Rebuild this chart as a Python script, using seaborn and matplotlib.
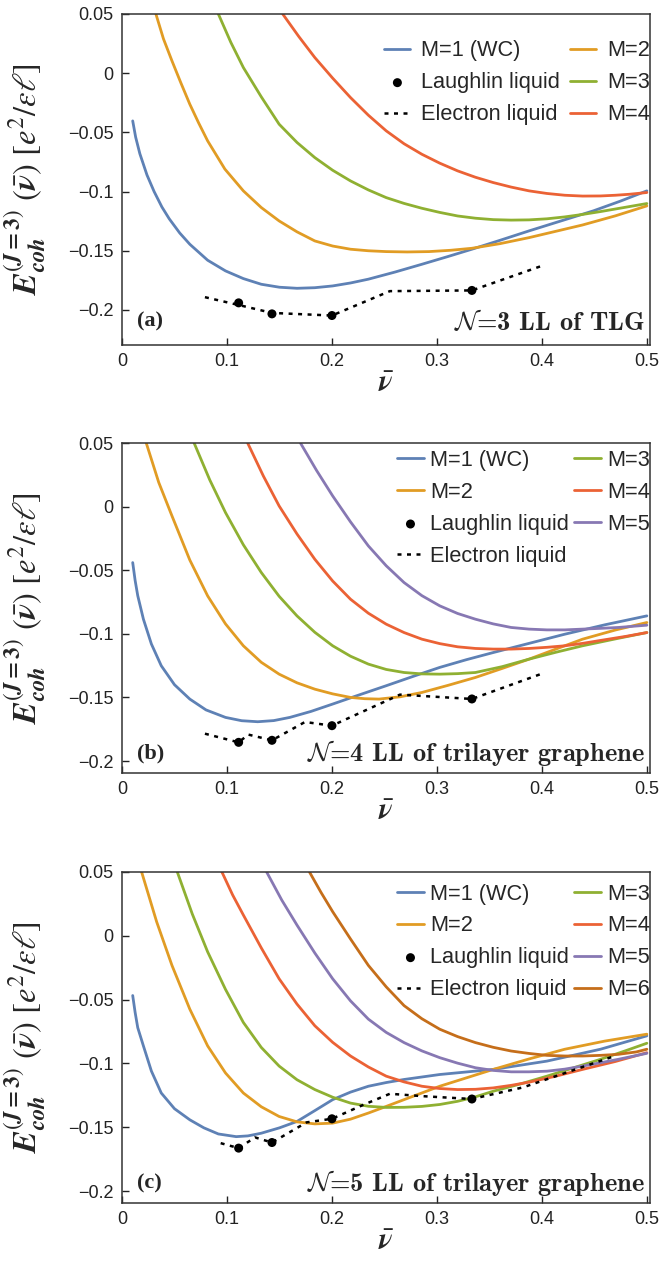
import matplotlib
matplotlib.use("Agg")
import matplotlib.pyplot as plt
import seaborn as sns
import numpy as np
import pandas as pd

# ---------------- data ----------------
# Panel (a): N=3 LL of TLG
a_m1_x = [0.0102, 0.013, 0.017, 0.0238, 0.0306, 0.038, 0.045, 0.055, 0.0646, 0.0816, 0.0986, 0.1156, 0.1327, 0.15, 0.1667, 0.1837, 0.2007, 0.2177, 0.2347, 0.26, 0.2857, 0.31, 0.3333, 0.36, 0.3878, 0.42, 0.449, 0.475, 0.5]
a_m1_y = [-0.0403, -0.054, -0.068, -0.086, -0.100, -0.113, -0.123, -0.135, -0.1445, -0.158, -0.167, -0.1735, -0.1783, -0.1808, -0.1817, -0.1812, -0.1797, -0.1772, -0.174, -0.168, -0.1614, -0.155, -0.1487, -0.1412, -0.1332, -0.1243, -0.1163, -0.108, -0.0994]
a_m2_x = [0.0323, 0.0395, 0.0476, 0.056, 0.0646, 0.073, 0.0816, 0.098, 0.1156, 0.1327, 0.1497, 0.1667, 0.1837, 0.2007, 0.2177, 0.2347, 0.2517, 0.2717, 0.2925, 0.3129, 0.3333, 0.36, 0.3878, 0.4388, 0.47, 0.5]
a_m2_y = [0.05, 0.029, 0.0104, -0.008, -0.0262, -0.042, -0.0572, -0.081, -0.0994, -0.1135, -0.1248, -0.134, -0.1417, -0.146, -0.1487, -0.15, -0.1507, -0.151, -0.1507, -0.1496, -0.1479, -0.144, -0.1389, -0.1282, -0.1205, -0.1121]
a_m3_x = [0.0918, 0.1037, 0.1156, 0.1327, 0.1497, 0.1667, 0.1837, 0.2007, 0.2177, 0.2347, 0.2517, 0.2687, 0.2857, 0.3027, 0.3197, 0.3367, 0.3537, 0.3707, 0.3878, 0.4048, 0.4218, 0.4388, 0.4558, 0.478, 0.5]
a_m3_y = [0.05, 0.026, 0.0048, -0.020, -0.0431, -0.0585, -0.0713, -0.082, -0.091, -0.0986, -0.1051, -0.110, -0.1141, -0.1176, -0.1206, -0.1225, -0.1237, -0.1241, -0.1239, -0.123, -0.1214, -0.1193, -0.1169, -0.1135, -0.1101]
a_m4_x = [0.1531, 0.1684, 0.1837, 0.2007, 0.2177, 0.2347, 0.2517, 0.2687, 0.2857, 0.3027, 0.3197, 0.3367, 0.3537, 0.3707, 0.3878, 0.4048, 0.4218, 0.4388, 0.4558, 0.47, 0.483, 0.5]
a_m4_y = [0.05, 0.031, 0.0132, -0.0042, -0.0206, -0.0355, -0.0487, -0.0596, -0.0685, -0.076, -0.0825, -0.0879, -0.0924, -0.0962, -0.0994, -0.1016, -0.1031, -0.1038, -0.1037, -0.1031, -0.1023, -0.1008]
a_laugh_x = [1/9, 1/7, 1/5, 1/3]
a_laugh_y = [-0.194, -0.2033, -0.2047, -0.1835]
a_el_x = [0.079, 1/9, 1/7, 1/5, 0.2552, 1/3, 0.4014]
a_el_y = [-0.1892, -0.1958, -0.2025, -0.2047, -0.1841, -0.1835, -0.1623]

# Panel (b): N=4 LL of trilayer graphene
b_m1_x = [0.0102, 0.0125, 0.015, 0.0204, 0.028, 0.0374, 0.05, 0.0646, 0.08, 0.0986, 0.114, 0.1293, 0.1446, 0.1599, 0.18, 0.2007, 0.226, 0.2517, 0.2772, 0.3027, 0.3282, 0.3537, 0.3878, 0.4218, 0.46, 0.5]
b_m1_y = [-0.044, -0.058, -0.070, -0.0885, -0.108, -0.1251, -0.140, -0.1513, -0.1598, -0.1657, -0.1683, -0.1691, -0.1682, -0.1657, -0.161, -0.1552, -0.148, -0.1408, -0.1335, -0.1264, -0.1203, -0.1147, -0.1075, -0.1003, -0.0929, -0.0859]
b_m2_x = [0.0231, 0.035, 0.0476, 0.0646, 0.0816, 0.0986, 0.1156, 0.1327, 0.1497, 0.1667, 0.1837, 0.2007, 0.2177, 0.2313, 0.2449, 0.265, 0.2857, 0.311, 0.3367, 0.3622, 0.3878, 0.4133, 0.4388, 0.47, 0.5]
b_m2_y = [0.05, 0.019, -0.0073, -0.042, -0.0702, -0.0922, -0.1094, -0.1224, -0.1317, -0.1385, -0.1435, -0.1472, -0.15, -0.151, -0.1513, -0.1495, -0.1461, -0.1404, -0.1343, -0.1272, -0.1199, -0.112, -0.1042, -0.097, -0.0911]
b_m3_x = [0.0687, 0.0836, 0.0986, 0.1156, 0.1327, 0.1497, 0.1667, 0.1837, 0.2007, 0.2177, 0.2347, 0.2517, 0.2687, 0.2857, 0.3027, 0.3197, 0.3367, 0.3622, 0.3878, 0.4133, 0.4388, 0.47, 0.5]
b_m3_y = [0.05, 0.021, -0.0047, -0.030, -0.0518, -0.0705, -0.0859, -0.0988, -0.1094, -0.1176, -0.1238, -0.128, -0.1304, -0.1315, -0.1317, -0.1313, -0.1304, -0.1258, -0.1199, -0.1145, -0.1094, -0.104, -0.099]
b_m4_x = [0.1197, 0.1347, 0.1497, 0.1667, 0.1837, 0.2007, 0.2177, 0.2347, 0.2517, 0.2687, 0.2857, 0.3027, 0.3197, 0.3367, 0.3537, 0.3707, 0.3878, 0.4048, 0.4218, 0.4388, 0.4558, 0.48, 0.5]
b_m4_y = [0.05, 0.024, 0.0005, -0.0215, -0.0414, -0.0585, -0.0728, -0.0838, -0.0924, -0.099, -0.1042, -0.1077, -0.1102, -0.1115, -0.112, -0.112, -0.1115, -0.1106, -0.1094, -0.1075, -0.1052, -0.102, -0.099]
b_m5_x = [0.17, 0.1853, 0.2007, 0.2177, 0.2347, 0.2517, 0.2687, 0.2857, 0.3027, 0.3197, 0.3367, 0.3537, 0.3707, 0.3878, 0.4048, 0.4218, 0.4388, 0.4558, 0.4728, 0.5]
b_m5_y = [0.05, 0.0285, 0.0084, -0.012, -0.0309, -0.0465, -0.0597, -0.070, -0.078, -0.084, -0.0885, -0.0922, -0.095, -0.0963, -0.0969, -0.0969, -0.0963, -0.0957, -0.095, -0.0932]
b_laugh_x = [1/9, 1/7, 1/5, 1/3]
b_laugh_y = [-0.1853, -0.1837, -0.1722, -0.1512]
b_el_x = [0.079, 1/9, 0.1203, 1/7, 0.1743, 1/5, 0.2648, 1/3, 0.4014]
b_el_y = [-0.1785, -0.1853, -0.1792, -0.1837, -0.1693, -0.1722, -0.1478, -0.1512, -0.1309]

# Panel (c): N=5 LL of trilayer graphene
c_m1_x = [0.0102, 0.0125, 0.015, 0.0204, 0.028, 0.0374, 0.05, 0.0646, 0.078, 0.0918, 0.1088, 0.12, 0.1327, 0.15, 0.1667, 0.1837, 0.2007, 0.2177, 0.2347, 0.2517, 0.2687, 0.3027, 0.3537, 0.4048, 0.4558, 0.5]
c_m1_y = [-0.0468, -0.060, -0.072, -0.0863, -0.106, -0.1232, -0.1355, -0.1442, -0.1505, -0.1553, -0.1574, -0.1568, -0.1547, -0.1505, -0.1455, -0.137, -0.1284, -0.1225, -0.1179, -0.115, -0.1126, -0.1087, -0.1047, -0.0982, -0.0889, -0.0784]
c_m2_x = [0.0187, 0.033, 0.0476, 0.0646, 0.0816, 0.0986, 0.1156, 0.1327, 0.1497, 0.1667, 0.1837, 0.2007, 0.2177, 0.2347, 0.2517, 0.2687, 0.3027, 0.3537, 0.3878, 0.4218, 0.46, 0.5]
c_m2_y = [0.05, 0.011, -0.0232, -0.0575, -0.0863, -0.1075, -0.1232, -0.134, -0.1416, -0.1458, -0.1474, -0.1468, -0.1437, -0.1389, -0.1337, -0.1284, -0.1179, -0.1047, -0.0965, -0.0889, -0.0825, -0.0771]
c_m3_x = [0.0527, 0.067, 0.0816, 0.0986, 0.1156, 0.1327, 0.1497, 0.1667, 0.1837, 0.2007, 0.2177, 0.2347, 0.2517, 0.2687, 0.2857, 0.3027, 0.3197, 0.3367, 0.3537, 0.38, 0.4048, 0.43, 0.4558, 0.48, 0.5]
c_m3_y = [0.05, 0.017, -0.0126, -0.042, -0.0679, -0.0875, -0.1021, -0.1128, -0.1205, -0.1265, -0.1311, -0.1336, -0.1345, -0.1344, -0.1337, -0.1322, -0.1297, -0.1262, -0.1218, -0.116, -0.110, -0.1035, -0.0968, -0.090, -0.0842]
c_m4_x = [0.0952, 0.1054, 0.1156, 0.1327, 0.1497, 0.1667, 0.1837, 0.2007, 0.2177, 0.2347, 0.2517, 0.2687, 0.2857, 0.3027, 0.3197, 0.3367, 0.3537, 0.3707, 0.3878, 0.4133, 0.4388, 0.47, 0.5]
c_m4_y = [0.05, 0.032, 0.0163, -0.0095, -0.0337, -0.0535, -0.0705, -0.0835, -0.0942, -0.1028, -0.110, -0.1145, -0.1179, -0.1197, -0.1205, -0.1203, -0.1192, -0.1172, -0.1147, -0.110, -0.1047, -0.0985, -0.0916]
c_m5_x = [0.1378, 0.1522, 0.1667, 0.1837, 0.2007, 0.2177, 0.2347, 0.2517, 0.2687, 0.2857, 0.3027, 0.3197, 0.3367, 0.3537, 0.3707, 0.3878, 0.4048, 0.4218, 0.4388, 0.4558, 0.4728, 0.5]
c_m5_y = [0.05, 0.028, 0.0084, -0.0135, -0.0337, -0.051, -0.0653, -0.0757, -0.0837, -0.0902, -0.0955, -0.0998, -0.1034, -0.1055, -0.1066, -0.1066, -0.1061, -0.1045, -0.1021, -0.0995, -0.0968, -0.0921]
c_m6_x = [0.1786, 0.1896, 0.2007, 0.2177, 0.2347, 0.2517, 0.2687, 0.2857, 0.3027, 0.3197, 0.3367, 0.3537, 0.3707, 0.3878, 0.4048, 0.4218, 0.4388, 0.4558, 0.4728, 0.49, 0.5]
c_m6_y = [0.05, 0.034, 0.0189, -0.0025, -0.0232, -0.040, -0.0547, -0.065, -0.0732, -0.079, -0.0837, -0.0874, -0.0903, -0.0922, -0.0937, -0.0942, -0.0942, -0.0937, -0.0929, -0.091, -0.0889]
c_laugh_x = [1/9, 1/7, 1/5, 1/3]
c_laugh_y = [-0.1664, -0.162, -0.1434, -0.1279]
c_el_x = [0.094, 1/9, 0.1267, 1/7, 0.1759, 1/5, 0.2298, 0.2552, 0.287, 1/3, 0.382, 0.4694]
c_el_y = [-0.1625, -0.1664, -0.158, -0.162, -0.1462, -0.1434, -0.1325, -0.1238, -0.1257, -0.1279, -0.1188, -0.0942]

x_ticks = [0, 0.1, 0.2, 0.3, 0.4, 0.5]
x_tick_labels = ["0", "0.1", "0.2", "0.3", "0.4", "0.5"]
y_ticks = [0.05, 0, -0.05, -0.1, -0.15, -0.2]
y_tick_labels = ["0.05", "0", "\u22120.05", "\u22120.1", "\u22120.15", "\u22120.2"]

labels_M = ["M=1 (WC)", "M=2", "M=3", "M=4", "M=5", "M=6"]
colors_M = ["#5E81B5", "#E19C24", "#8FB032", "#EB6235", "#8778B3", "#C56E1A"]

panel_tags = ["(a)", "(b)", "(c)"]
panel_titles = [r"$\mathcal{N}$=3 LL of TLG",
                r"$\mathcal{N}$=4 LL of trilayer graphene",
                r"$\mathcal{N}$=5 LL of trilayer graphene"]

# ---------------- styling ----------------
sns.set_style("ticks")
plt.rcParams["font.family"] = ["Liberation Sans", "DejaVu Sans"]
plt.rcParams["mathtext.fontset"] = "stix"

W, H = 661, 1280
fig = plt.figure(figsize=(W / 100, H / 100), dpi=100)

def px_axes(top, bottom, left=122, right=650):
    return [left / W, 1 - bottom / H, (right - left) / W, (bottom - top) / H]

panels = [
    dict(pos=px_axes(14, 345), ylim=(-0.2296, 0.05),
         curves=[(a_m1_x, a_m1_y), (a_m2_x, a_m2_y), (a_m3_x, a_m3_y), (a_m4_x, a_m4_y)],
         laugh=(a_laugh_x, a_laugh_y), el=(a_el_x, a_el_y),
         order=["M=1 (WC)", "Laughlin liquid", "Electron liquid", "M=2", "M=3", "M=4"],
         colsp=0.45, textpad=0.5, top=0.92, tagy=0.07),
    dict(pos=px_axes(443, 773), ylim=(-0.2094, 0.05),
         curves=[(b_m1_x, b_m1_y), (b_m2_x, b_m2_y), (b_m3_x, b_m3_y), (b_m4_x, b_m4_y), (b_m5_x, b_m5_y)],
         laugh=(b_laugh_x, b_laugh_y), el=(b_el_x, b_el_y),
         order=["M=1 (WC)", "M=2", "Laughlin liquid", "Electron liquid", "M=3", "M=4", "M=5"],
         colsp=0.25, textpad=0.3, top=0.979, tagy=0.06),
    dict(pos=px_axes(872, 1203), ylim=(-0.2094, 0.05),
         curves=[(c_m1_x, c_m1_y), (c_m2_x, c_m2_y), (c_m3_x, c_m3_y), (c_m4_x, c_m4_y), (c_m5_x, c_m5_y), (c_m6_x, c_m6_y)],
         laugh=(c_laugh_x, c_laugh_y), el=(c_el_x, c_el_y),
         order=["M=1 (WC)", "M=2", "Laughlin liquid", "Electron liquid", "M=3", "M=4", "M=5", "M=6"],
         colsp=0.25, textpad=0.3, top=0.965, tagy=0.06),
]

ylabel = (r"$\mathbfit{E}_{\mathbfit{coh}}^{(\mathbfit{J}\mathbf{=3})}\ "
          r"(\bar{\mathbfit{\nu}})\ [e^2/\epsilon\ell]$")

for i, p in enumerate(panels):
    ax = fig.add_axes(p["pos"])
    for k, (xs, ys) in enumerate(p["curves"]):
        df = pd.DataFrame({"x": xs, "y": ys})
        sns.lineplot(data=df, x="x", y="y", ax=ax, color=colors_M[k], lw=2.0,
                     label=labels_M[k], sort=False, estimator=None,
                     solid_joinstyle="round", solid_capstyle="round")
    dfe = pd.DataFrame({"x": p["el"][0], "y": p["el"][1]})
    sns.lineplot(data=dfe, x="x", y="y", ax=ax, color="black", lw=1.8,
                 linestyle=(0, (1.6, 2.2)), label="Electron liquid", sort=False,
                 estimator=None, zorder=5)
    dfl = pd.DataFrame({"x": p["laugh"][0], "y": p["laugh"][1]})
    sns.scatterplot(data=dfl, x="x", y="y", ax=ax, color="black", s=42, edgecolor="none",
                    label="Laughlin liquid", zorder=6)

    ax.set_xlim(0, 0.503)
    ax.set_ylim(*p["ylim"])
    ax.set_xticks(x_ticks)
    ax.set_xticklabels(x_tick_labels)
    ax.set_yticks(y_ticks)
    ax.set_yticklabels(y_tick_labels)
    ax.tick_params(direction="in", length=5, width=1.0, labelsize=13, pad=6,
                   top=False, right=False, colors="#222222")
    for s in ax.spines.values():
        s.set_visible(True)
        s.set_linewidth(1.1)
        s.set_color("#333333")

    ax.set_xlabel(r"$\bar{\mathbfit{\nu}}$", fontsize=21, labelpad=0)
    ax.set_ylabel(ylabel, fontsize=23.5)
    ax.yaxis.set_label_coords(-0.14, 0.5)

    handles, labs = ax.get_legend_handles_labels()
    hmap = dict(zip(labs, handles))
    ax.legend([hmap[l] for l in p["order"]], p["order"], ncol=2, loc="upper right",
              bbox_to_anchor=(1.0, p["top"]), frameon=False, fontsize=15.7,
              handlelength=1.2, handletextpad=p["textpad"],
              columnspacing=p["colsp"], labelspacing=0.5, borderaxespad=0.0,
              borderpad=0.0)

    ax.text(0.028, p["tagy"], panel_tags[i], transform=ax.transAxes, fontsize=16,
            fontweight="bold", family="Liberation Serif", va="center", ha="left")
    ax.text(0.99, p["tagy"], panel_titles[i], transform=ax.transAxes, fontsize=19,
            family=["cmb10", "DejaVu Serif"], va="center", ha="right",
            math_fontfamily="cm")

fig.savefig("out.png", dpi=100)
